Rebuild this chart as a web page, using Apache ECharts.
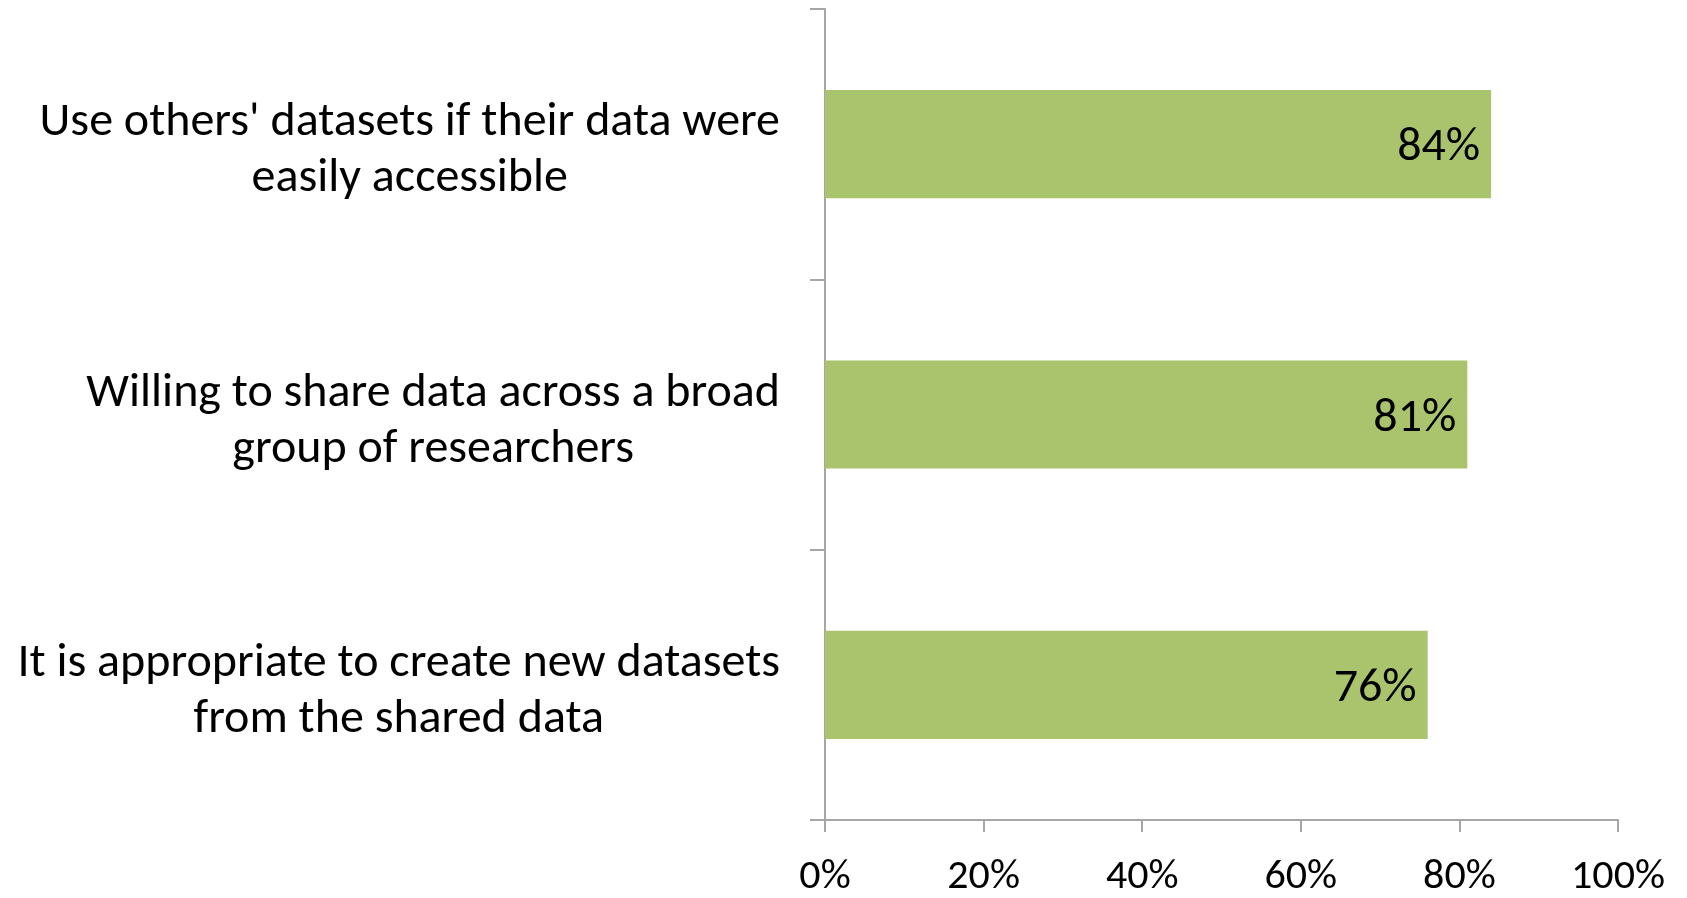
<!DOCTYPE html>
<html>
<head>
<meta charset="utf-8">
<script src="https://cdn.jsdelivr.net/npm/echarts@6/dist/echarts.min.js"></script>
<style>
  html, body { margin: 0; padding: 0; background: #ffffff; }
  #chart { width: 1687px; height: 898px; }
</style>
</head>
<body>
<div id="chart"></div>
<script>
// Survey statements, top to bottom
const categories = [
  "Use others' datasets if their data were\neasily accessible",
  "Willing to share data across a broad\ngroup of researchers",
  "It is appropriate to create new datasets\nfrom the shared data"
];
// Share of respondents agreeing (%)
const agreeValues = [84, 81, 76];
// Percentage axis ticks
const tickValues = [0, 20, 40, 60, 80, 100];

const FONT = "Carlito, Lato, 'Open Sans', sans-serif";
const AXIS_COLOR = '#a6a6a6';

const chart = echarts.init(document.getElementById('chart'), null, { renderer: 'canvas' });

chart.setOption({
  animation: false,
  backgroundColor: '#ffffff',
  grid: { left: 825, right: 69, top: 9, bottom: 75, containLabel: false },
  xAxis: {
    type: 'value',
    min: tickValues[0],
    max: tickValues[tickValues.length - 1],
    interval: 20,
    splitLine: { show: false },
    axisLine: { show: true, lineStyle: { color: AXIS_COLOR, width: 2 } },
    axisTick: { show: true, length: 12, lineStyle: { color: AXIS_COLOR, width: 2 } },
    axisLabel: {
      formatter: v => v + '%',
      fontFamily: FONT,
      fontSize: 42,
      color: '#000000',
      margin: 36
    }
  },
  yAxis: {
    type: 'category',
    data: categories,
    inverse: true,
    boundaryGap: true,
    axisLine: { show: true, lineStyle: { color: AXIS_COLOR, width: 2 } },
    axisTick: { show: true, length: 15, alignWithLabel: false, lineStyle: { color: AXIS_COLOR, width: 2 } },
    axisLabel: {
      margin: 45,
      padding: [14, 0, 0, 0],
      formatter: v => v.split('\n').map(s => '{c|' + s + '}').join('\n'),
      rich: {
        c: {
          align: 'center',
          fontFamily: FONT,
          fontSize: 48,
          lineHeight: 56,
          color: '#000000'
        }
      }
    }
  },
  series: [{
    type: 'bar',
    data: agreeValues,
    barWidth: '40%',
    itemStyle: { color: '#aac46d' },
    label: {
      show: true,
      position: 'insideRight',
      distance: 11,
      offset: [0, 4],
      formatter: p => p.value + '%',
      fontFamily: FONT,
      fontSize: 48,
      color: '#000000'
    }
  }]
});
</script>
</body>
</html>
